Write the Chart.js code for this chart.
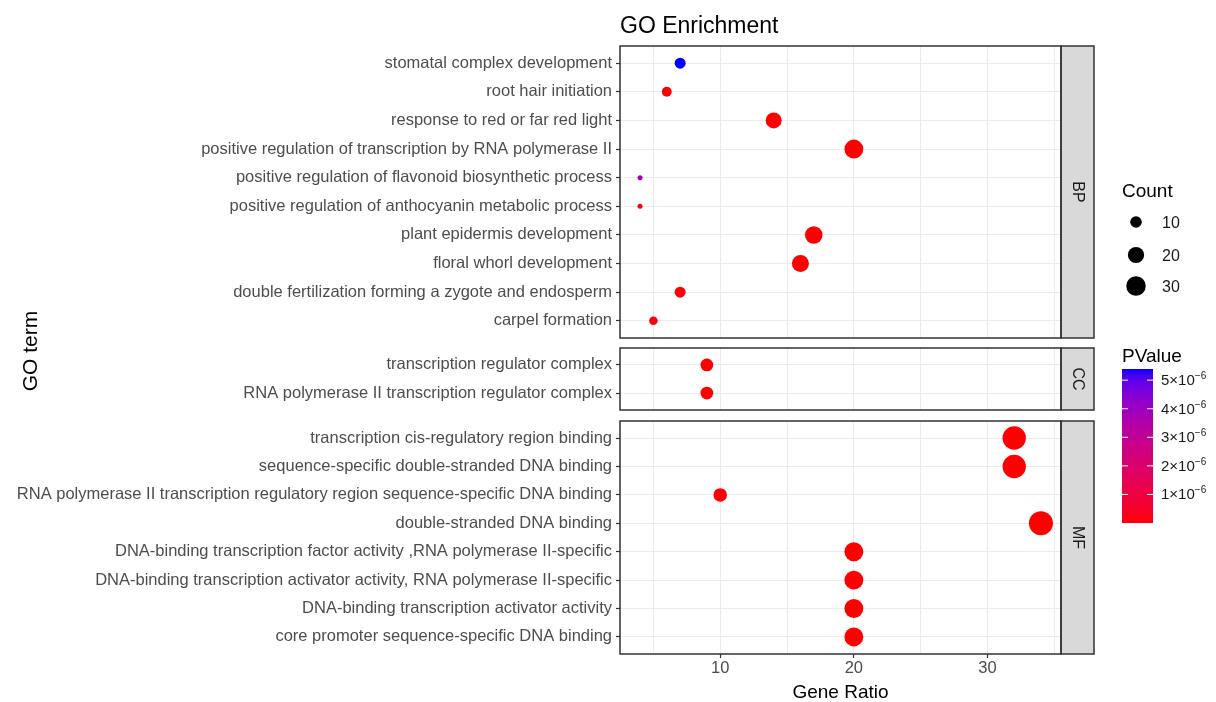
<!DOCTYPE html>
<html>
<head>
<meta charset="utf-8">
<script src="https://cdn.jsdelivr.net/npm/chart.js@4.4.1/dist/chart.umd.min.js"></script>
<style>
  html, body { margin: 0; padding: 0; background: #ffffff; }
  #wrap { position: relative; width: 1216px; height: 702px; overflow: hidden; }
  #wrap canvas { position: absolute; left: 0; }
  #overlay { position: absolute; left: 0; top: 0; pointer-events: none; }
</style>
</head>
<body>
<div id="wrap">
  <canvas id="bpChart" width="1216" height="296" style="top:44px"></canvas>
  <canvas id="ccChart" width="1216" height="66" style="top:346px"></canvas>
  <canvas id="mfChart" width="1216" height="283" style="top:419px"></canvas>
  <svg id="overlay" width="1216" height="702" xmlns="http://www.w3.org/2000/svg"></svg>
</div>
<script>
// ---- Biological Process ----
const bpTerms = [
  "stomatal complex development",
  "root hair initiation",
  "response to red or far red light",
  "positive regulation of transcription by RNA polymerase II",
  "positive regulation of flavonoid biosynthetic process",
  "positive regulation of anthocyanin metabolic process",
  "plant epidermis development",
  "floral whorl development",
  "double fertilization forming a zygote and endosperm",
  "carpel formation"
];
const bpRatio  = [7, 6, 14, 20, 4, 4, 17, 16, 7, 5];
const bpCount  = [7, 6, 14, 20, 4, 4, 17, 16, 7, 5];
const bpPValue = [5.39e-6, 2.1e-8, 3.4e-10, 1.2e-12, 3.75e-6, 1.4e-7, 5.6e-11, 8.2e-11, 6.3e-8, 9.1e-8];

// ---- Cellular Component ----
const ccTerms = [
  "transcription regulator complex",
  "RNA polymerase II transcription regulator complex"
];
const ccRatio  = [9, 9];
const ccCount  = [9, 9];
const ccPValue = [3.1e-9, 3.1e-9];

// ---- Molecular Function ----
const mfTerms = [
  "transcription cis-regulatory region binding",
  "sequence-specific double-stranded DNA binding",
  "RNA polymerase II transcription regulatory region sequence-specific DNA binding",
  "double-stranded DNA binding",
  "DNA-binding transcription factor activity ,RNA polymerase II-specific",
  "DNA-binding transcription activator activity, RNA polymerase II-specific",
  "DNA-binding transcription activator activity",
  "core promoter sequence-specific DNA binding"
];
const mfRatio  = [32, 32, 10, 34, 20, 20, 20, 20];
const mfCount  = [32, 32, 10, 34, 20, 20, 20, 20];
const mfPValue = [2.2e-16, 4.5e-16, 1.8e-8, 1.1e-15, 6.0e-12, 6.0e-12, 7.5e-12, 7.5e-12];

// axis / legend ticks
const ratioTicks = [10, 20, 30];
const ratioGrid  = [5, 10, 15, 20, 25, 30, 35];
const countKeys  = [10, 20, 30];
const pValueTicks = [1e-6, 2e-6, 3e-6, 4e-6, 5e-6];
const pValueTickMantissa = ["1", "2", "3", "4", "5"];

const FONT = '"Liberation Sans", Arial, Helvetica, sans-serif';

// ---------- colour scale (red -> blue, interpolated in CIE Lab) ----------
function toLin(c) { c /= 255; return c <= 0.04045 ? c / 12.92 : Math.pow((c + 0.055) / 1.055, 2.4); }
function fromLin(c) {
  const v = c <= 0.0031308 ? 12.92 * c : 1.055 * Math.pow(c, 1 / 2.4) - 0.055;
  return Math.round(Math.min(1, Math.max(0, v)) * 255);
}
const WX = 0.95047, WY = 1.0, WZ = 1.08883, EPS = 216 / 24389, KAP = 24389 / 27;
function labF(t) { return t > EPS ? Math.cbrt(t) : (KAP * t + 16) / 116; }
function labFi(t) { const t3 = t * t * t; return t3 > EPS ? t3 : (116 * t - 16) / KAP; }
function rgbToLab([r, g, b]) {
  const R = toLin(r), G = toLin(g), B = toLin(b);
  const X = 0.4124564 * R + 0.3575761 * G + 0.1804375 * B;
  const Y = 0.2126729 * R + 0.7151522 * G + 0.0721750 * B;
  const Z = 0.0193339 * R + 0.1191920 * G + 0.9503041 * B;
  const fx = labF(X / WX), fy = labF(Y / WY), fz = labF(Z / WZ);
  return [116 * fy - 16, 500 * (fx - fy), 200 * (fy - fz)];
}
function labToRgb([L, a, b]) {
  const fy = (L + 16) / 116, fx = fy + a / 500, fz = fy - b / 200;
  const X = labFi(fx) * WX, Y = labFi(fy) * WY, Z = labFi(fz) * WZ;
  const R = 3.2404542 * X - 1.5371385 * Y - 0.4985314 * Z;
  const G = -0.9692660 * X + 1.8760108 * Y + 0.0415560 * Z;
  const B = 0.0556434 * X - 0.2040259 * Y + 1.0572252 * Z;
  return [fromLin(R), fromLin(G), fromLin(B)];
}
const LAB_LOW = rgbToLab([255, 0, 0]);
const LAB_HIGH = rgbToLab([0, 0, 255]);
function gradientAt(t) {
  const lab = LAB_LOW.map((v, i) => v + (LAB_HIGH[i] - v) * t);
  const [r, g, b] = labToRgb(lab);
  return `rgb(${r},${g},${b})`;
}
const allP = [...bpPValue, ...ccPValue, ...mfPValue];
const P_MIN = Math.min(...allP), P_MAX = Math.max(...allP);
function pColor(p) { return gradientAt((p - P_MIN) / (P_MAX - P_MIN)); }

// ---------- size scale (area proportional) ----------
const allCount = [...bpCount, ...ccCount, ...mfCount];
const C_MIN = Math.min(...allCount), C_MAX = Math.max(...allCount);
function sizeR(c) { return 2.5 + 9.5 * Math.sqrt((c - C_MIN) / (C_MAX - C_MIN)); }

// ---------- panel frame + facet strip ----------
const facetFrame = {
  id: 'facetFrame',
  afterDraw(chart, args, opts) {
    const { ctx, chartArea: a } = chart;
    ctx.save();
    // strip on the right
    const sw = 33;
    ctx.fillStyle = '#D9D9D9';
    ctx.fillRect(a.right, a.top, sw, a.bottom - a.top);
    ctx.strokeStyle = '#333333';
    ctx.lineWidth = 1.5;
    ctx.strokeRect(a.right, a.top, sw, a.bottom - a.top);
    ctx.translate(a.right + sw / 2, (a.top + a.bottom) / 2);
    ctx.rotate(Math.PI / 2);
    ctx.fillStyle = '#1A1A1A';
    ctx.font = `16px ${FONT}`;
    ctx.textAlign = 'center';
    ctx.textBaseline = 'middle';
    ctx.fillText(opts.label, 0, 0);
    ctx.restore();
    // panel border
    ctx.save();
    ctx.strokeStyle = '#333333';
    ctx.lineWidth = 1.5;
    ctx.strokeRect(a.left, a.top, a.right - a.left, a.bottom - a.top);
    ctx.restore();
  }
};

function facetChart(id, label, terms, ratio, count, pvals, withXAxis) {
  const n = terms.length;
  return new Chart(document.getElementById(id), {
    type: 'scatter',
    data: {
      datasets: [{
        data: ratio.map((x, i) => ({ x: x, y: i })),
        pointRadius: count.map(sizeR),
        pointHoverRadius: count.map(sizeR),
        backgroundColor: pvals.map(pColor),
        borderWidth: 0,
        pointStyle: 'circle',
        clip: false
      }]
    },
    options: {
      responsive: false,
      animation: false,
      events: [],
      layout: {
        autoPadding: false,
        padding: { left: 0, top: 2, right: 155, bottom: withXAxis ? 0 : 2 }
      },
      plugins: {
        legend: { display: false },
        tooltip: { enabled: false },
        facetFrame: { label: label }
      },
      scales: {
        x: {
          type: 'linear',
          min: 2.5,
          max: 35.5,
          afterBuildTicks: s => { s.ticks = ratioGrid.map(v => ({ value: v })); },
          afterFit: s => {
            s.height = withXAxis ? 48 : 0;
            s.paddingLeft = 0; s.paddingRight = 0;
          },
          border: { display: false },
          grid: {
            color: '#EBEBEB',
            lineWidth: 1,
            drawTicks: withXAxis,
            tickLength: 4,
            tickWidth: 1.2,
            tickColor: c => (c.tick && ratioTicks.includes(c.tick.value)) ? '#333333' : 'rgba(0,0,0,0)'
          },
          ticks: {
            display: withXAxis,
            autoSkip: false,
            maxRotation: 0,
            padding: 1,
            color: '#4D4D4D',
            font: { size: 16.5, family: FONT },
            callback: v => ratioTicks.includes(v) ? String(v) : ''
          },
          title: {
            display: withXAxis,
            text: 'Gene Ratio',
            color: '#000000',
            font: { size: 19, family: FONT, lineHeight: 1 },
            padding: { top: 0, bottom: 0 }
          }
        },
        y: {
          type: 'linear',
          reverse: true,
          min: -0.6,
          max: n - 1 + 0.6,
          afterBuildTicks: s => { s.ticks = terms.map((t, i) => ({ value: i })); },
          afterFit: s => {
            s.width = 620;
            s.paddingTop = 0; s.paddingBottom = 0;
          },
          border: { display: false },
          grid: { color: '#EBEBEB', lineWidth: 1, tickLength: 4, tickWidth: 1.2, tickColor: '#333333' },
          ticks: {
            autoSkip: false,
            padding: 4,
            color: '#4D4D4D',
            font: { size: 16.5, family: FONT },
            callback: v => terms[v]
          }
        }
      }
    },
    plugins: [facetFrame]
  });
}

facetChart('bpChart', 'BP', bpTerms, bpRatio, bpCount, bpPValue, false);
facetChart('ccChart', 'CC', ccTerms, ccRatio, ccCount, ccPValue, false);
facetChart('mfChart', 'MF', mfTerms, mfRatio, mfCount, mfPValue, true);

// ---------- titles and legends ----------
const NS = 'http://www.w3.org/2000/svg';
const svg = document.getElementById('overlay');
function el(tag, attrs, text) {
  const e = document.createElementNS(NS, tag);
  for (const k in attrs) e.setAttribute(k, attrs[k]);
  if (text !== undefined) e.textContent = text;
  svg.appendChild(e);
  return e;
}
el('text', { x: 620, y: 33, 'font-family': FONT, 'font-size': 23, fill: '#000' }, 'GO Enrichment');
el('text', { x: 37, y: 351, 'font-family': FONT, 'font-size': 21, fill: '#000',
  'text-anchor': 'middle', transform: 'rotate(-90 37 351)' }, 'GO term');

// size legend
el('text', { x: 1122, y: 197, 'font-family': FONT, 'font-size': 19, fill: '#000' }, 'Count');
const keyY = [222, 255, 286];
countKeys.forEach((c, i) => {
  el('circle', { cx: 1136, cy: keyY[i], r: sizeR(c) * 0.86, fill: '#000' });
  el('text', { x: 1162, y: keyY[i], 'font-family': FONT, 'font-size': 16, fill: '#1A1A1A',
    'dominant-baseline': 'central' }, String(c));
});

// colour bar legend
el('text', { x: 1122, y: 362, 'font-family': FONT, 'font-size': 19, fill: '#000' }, 'PValue');
const barX = 1122, barY = 369, barW = 31, barH = 154;
const defs = el('defs', {});
const grad = document.createElementNS(NS, 'linearGradient');
grad.setAttribute('id', 'pgrad');
grad.setAttribute('x1', '0'); grad.setAttribute('y1', '1');
grad.setAttribute('x2', '0'); grad.setAttribute('y2', '0');
for (let i = 0; i <= 30; i++) {
  const st = document.createElementNS(NS, 'stop');
  st.setAttribute('offset', String(i / 30));
  st.setAttribute('stop-color', gradientAt(i / 30));
  grad.appendChild(st);
}
defs.appendChild(grad);
el('rect', { x: barX, y: barY, width: barW, height: barH, fill: 'url(#pgrad)' });
pValueTicks.forEach((p, i) => {
  const y = barY + barH - (p - P_MIN) / (P_MAX - P_MIN) * barH;
  el('line', { x1: barX, x2: barX + 6, y1: y, y2: y, stroke: '#fff', 'stroke-width': 1 });
  el('line', { x1: barX + barW - 6, x2: barX + barW, y1: y, y2: y, stroke: '#fff', 'stroke-width': 1 });
  const t = el('text', { x: 1161, y: y + 5, 'font-family': FONT, 'font-size': 15, fill: '#1A1A1A' });
  t.appendChild(document.createTextNode(pValueTickMantissa[i] + '\u00D710'));
  const sup = document.createElementNS(NS, 'tspan');
  sup.setAttribute('dy', '-6');
  sup.setAttribute('font-size', '10');
  sup.textContent = '\u22126';
  t.appendChild(sup);
});
</script>
</body>
</html>
